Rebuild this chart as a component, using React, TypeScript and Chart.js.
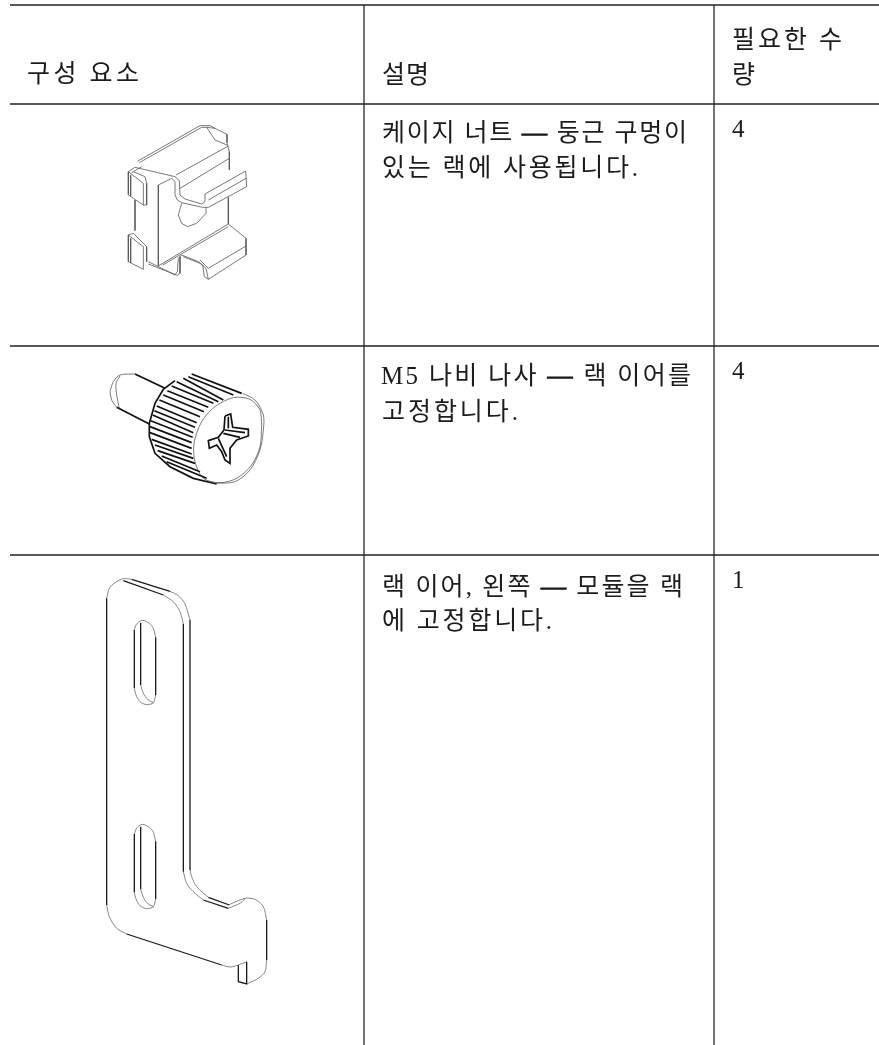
import React, { useEffect, useRef } from "react";
import { Chart, registerables } from "chart.js";

Chart.register(...registerables);

type Pt = [number, number];

// Table rules, in page units
const ruleRows: number[] = [5, 104, 346, 555];
const ruleCols: number[] = [364, 714];

// Cell text
const cellLabels: string[] = [
  "구성 요소", "설명", "필요한 수", "량",
  "케이지 너트 — 둥근 구멍이", "있는 랙에 사용됩니다.", "4",
  "M5 나비 나사 — 랙 이어를", "고정합니다.", "4",
  "랙 이어, 왼쪽 — 모듈을 랙", "에 고정합니다.", "1",
];
const cellX: number[] = [27, 382, 732, 732, 382, 382, 732, 381, 382, 732, 382, 382, 732];
const cellY: number[] = [82, 83, 48, 83, 141, 176, 137, 384, 420, 379, 595, 629, 588];
const cellW: number[] = [112, 47, 110, 0, 305, 256, 0, 310, 136, 0, 301, 170, 0];

const nutLines: Pt[][] = [
  [[112,124],[300,17],[330,17],[345,25],[381,43],[381,68],[388,95],[388,150]],
  [[118,128],[305,22],[320,22],[345,60],[381,75]],
  [[345,25],[320,22]],
  [[228,165],[385,78]],
  [[240,205],[388,115]],
  [[85,155],[105,142],[140,150],[225,170],[238,182],[240,225],[255,237],[305,252],[315,245],[315,222],[437,153],[440,200],[325,262],[308,262],[245,248],[232,240],[225,225],[225,185],[215,175],[175,195]],
  [[325,240],[438,175]],
  [[95,158],[125,140]],
  [[100,155],[135,170],[140,190]],
  [[175,195],[175,438]],
  [[85,155],[85,225],[130,255],[130,190],[85,155]],
  [[92,165],[92,228]],
  [[140,190],[140,255],[130,255]],
  [[105,240],[105,332]],
  [[85,345],[100,340],[140,380],[140,425]],
  [[85,345],[85,425],[130,448],[130,380],[85,345]],
  [[92,355],[92,428]],
  [[245,250],[235,285],[245,310],[262,320],[290,310],[318,280],[318,262]],
  [[385,232],[385,312]],
  [[385,312],[175,438]],
  [[385,320],[188,435]],
  [[385,312],[438,355],[438,405],[325,478],[313,470],[308,435],[295,425],[245,405],[235,415],[232,455],[225,465],[145,425]],
  [[438,378],[325,445],[300,420]],
  [[250,410],[300,430],[318,445],[325,478]],
  [[240,410],[240,460],[232,466],[145,432]],
];

const screwThin: Pt[][] = [
  [[150,125],[160,95],[180,75],[225,72]],
  [[150,125],[155,150],[170,172]],
  [[180,78],[168,100],[170,135],[178,175]],
  [[605,225],[600,290],[575,345],[530,385],[480,398],[430,385],[405,335],[402,280],[425,215],[465,170],[520,143],[570,148],[600,180],[605,225]],
  [[548,130],[585,150],[610,195],[610,240],[600,300],[570,360],[525,395],[470,400]],
];
const screwDark: Pt[][] = [
  [[225,72],[315,115]],
  [[170,172],[268,222]],
  [[395,72],[545,130]],[[385,80],[520,135]],[[370,85],[490,150]],[[350,95],[475,155]],
  [[335,108],[460,160]],[[322,122],[445,172]],[[310,135],[432,185]],[[298,150],[420,200]],
  [[290,168],[410,218]],[[283,182],[405,232]],[[278,195],[400,248]],[[272,212],[398,262]],
  [[270,230],[395,278]],[[270,248],[395,295]],[[275,268],[395,312]],[[285,285],[400,325]],
  [[293,302],[405,340]],[[305,318],[420,365]],[[320,335],[440,385]],
  [[345,92],[310,118],[285,160],[268,220],[268,260],[285,310],[330,350],[400,385],[470,402]],
  [[495,198],[512,192],[518,232],[565,238],[565,258],[530,270],[510,295],[510,340],[495,330],[485,305],[470,285],[448,295],[445,272],[475,262],[492,240],[495,198]],
  [[495,240],[555,248]],[[475,265],[500,320]],[[490,250],[540,262]],[[505,200],[505,235]],
];

const earThin: Pt[][] = [
  [[50,205],[58,175],[75,158],[100,146],[125,148]],
  [[240,184],[265,197],[285,222],[300,270]],
  [[220,195],[250,215],[270,245],[280,282]],
  [[300,1020],[305,1040],[320,1070],[355,1102]],
  [[280,1025],[290,1060],[310,1085],[340,1110]],
  [[415,1125],[465,1105],[495,1108],[520,1130],[530,1170]],
  [[415,1135],[450,1120],[465,1108]],
  [[530,1290],[525,1325],[505,1345],[470,1362]],
  [[50,1125],[58,1160],[80,1195],[110,1212]],
  [[395,1305],[420,1311],[445,1305],[470,1295]],
  [[133,300],[140,282],[157,271],[178,280],[190,295],[197,322]],
  [[197,495],[190,518],[170,524],[150,515],[138,495],[133,475]],
  [[152,465],[160,490],[175,510],[190,518]],
  [[133,912],[140,894],[157,883],[178,892],[190,907],[197,934]],
  [[197,1107],[190,1130],[170,1136],[150,1127],[138,1107],[133,1087]],
  [[152,1077],[160,1102],[175,1122],[190,1130]],
];
const earDark: Pt[][] = [
  [[50,205],[50,1125]],
  [[125,148],[240,184]],
  [[100,152],[220,195]],
  [[300,270],[300,1020]],
  [[280,282],[280,1025]],
  [[355,1102],[418,1125]],
  [[340,1110],[415,1135]],
  [[530,1170],[530,1290]],
  [[110,1212],[395,1305]],
  [[470,1295],[470,1362],[445,1355],[445,1305]],
  [[133,300],[133,475]],
  [[197,322],[197,495]],
  [[152,278],[152,465]],
  [[133,912],[133,1087]],
  [[197,934],[197,1107]],
  [[152,890],[152,1077]],
];

const WIDTH = 879;
const HEIGHT = 1045;
const FONT = '"Liberation Serif", "Noto Sans CJK KR", serif';
const DASH = "—";

function place(paths: Pt[][], ox: number, oy: number, width: number, color: string, tension = 0) {
  return paths.map((p) => ({
    data: p.map(([x, y]) => ({ x: ox + x / 3, y: oy + y / 3 })),
    showLine: true,
    pointRadius: 0,
    borderColor: color,
    borderWidth: width,
    tension,
    fill: false,
  }));
}

const ruleSets = () => [
  ...ruleRows.map((y, i) => ({
    data: [{ x: 10, y }, { x: WIDTH, y }],
    showLine: true, pointRadius: 0, borderColor: "#222", borderWidth: i === 0 ? 1.6 : 1.4, fill: false,
  })),
  ...ruleCols.map((x) => ({
    data: [{ x, y: ruleRows[0] }, { x, y: HEIGHT }],
    showLine: true, pointRadius: 0, borderColor: "#2a2a2a", borderWidth: 1.3, fill: false,
  })),
];

const textPlugin = {
  id: "cellText",
  afterDatasetsDraw(chart: any) {
    const { ctx, scales } = chart;
    ctx.save();
    ctx.fillStyle = "#1c1c1c";
    ctx.strokeStyle = "#1c1c1c";
    ctx.lineWidth = 1;
    ctx.textBaseline = "alphabetic";
    ctx.textAlign = "left";
    ctx.font = `25px ${FONT}`;
    cellLabels.forEach((label, i) => {
      ctx.letterSpacing = "0px";
      if (cellW[i] > 0) {
        const w = ctx.measureText(label).width;
        ctx.letterSpacing = `${(cellW[i] - w) / Math.max(1, [...label].length - 1)}px`;
      }
      const x = scales.x.getPixelForValue(cellX[i]);
      const y = scales.y.getPixelForValue(cellY[i]);
      ctx.fillText(label, x, y);
      const at = label.indexOf(DASH);
      if (at >= 0) ctx.strokeText(DASH, x + ctx.measureText(label.slice(0, at)).width, y);
    });
    ctx.restore();
  },
};

export default function App() {
  const ref = useRef<HTMLCanvasElement>(null);
  useEffect(() => {
    const chart = new Chart(ref.current as HTMLCanvasElement, {
      type: "scatter",
      data: {
        datasets: [
          ...ruleSets(),
          ...place(nutLines, 100, 120, 0.8, "#555"),
          ...place(screwThin, 60, 350, 0.7, "#444", 0.3),
          ...place(screwDark, 60, 350, 1.7, "#111"),
          ...place(earThin, 90, 530, 0.7, "#555", 0.3),
          ...place(earDark, 90, 530, 1.3, "#1a1a1a"),
        ] as any,
      },
      options: {
        animation: false,
        responsive: false,
        devicePixelRatio: 1,
        layout: { padding: 0 },
        plugins: { legend: { display: false }, tooltip: { enabled: false }, title: { display: false } },
        scales: {
          x: { type: "linear", display: false, min: 0, max: WIDTH },
          y: { type: "linear", display: false, min: 0, max: HEIGHT, reverse: true },
        },
      },
      plugins: [textPlugin],
    });
    return () => chart.destroy();
  }, []);
  return (
    <div style={{ position: "absolute", left: 0, top: 0, width: WIDTH, height: HEIGHT, background: "#fff", overflow: "hidden" }}>
      <canvas ref={ref} width={WIDTH} height={HEIGHT} style={{ display: "block" }} />
    </div>
  );
}
